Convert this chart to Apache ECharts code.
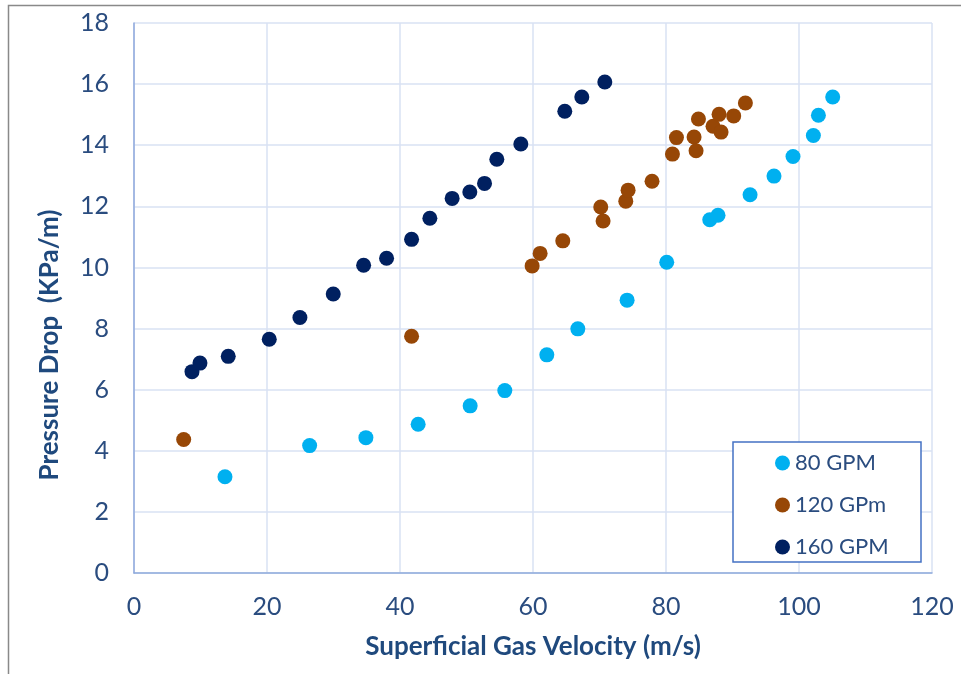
<!DOCTYPE html>
<html>
<head>
<meta charset="utf-8">
<script src="https://cdn.jsdelivr.net/npm/echarts@6/dist/echarts.min.js"></script>
<style>html,body{margin:0;padding:0;background:#fff}#c{width:961px;height:674px}</style>
</head>
<body>
<div id="c"></div>
<script>
var seriesNames = ['80 GPM', '120 GPm', '160 GPM'];
var gpm80 = [[13.68,3.15],[26.41,4.17],[34.87,4.43],[42.73,4.87],[50.55,5.47],[55.76,5.97],[62.08,7.14],[66.74,7.99],[74.15,8.93],[80.11,10.17],[86.58,11.56],[87.82,11.71],[92.64,12.38],[96.24,12.99],[99.10,13.63],[102.16,14.32],[102.92,14.98],[105.07,15.58]];
var gpm120 = [[7.47,4.37],[41.74,7.75],[59.87,10.05],[61.07,10.46],[64.48,10.87],[70.19,11.98],[70.54,11.52],[73.95,12.17],[74.30,12.53],[77.90,12.82],[80.97,13.71],[81.57,14.25],[84.22,14.27],[84.52,13.82],[84.88,14.86],[87.07,14.62],[87.98,15.01],[88.28,14.43],[90.18,14.96],[91.94,15.38]];
var gpm160 = [[8.72,6.59],[9.92,6.87],[14.17,7.09],[20.34,7.65],[24.95,8.36],[29.96,9.13],[34.53,10.07],[37.98,10.30],[41.74,10.92],[44.49,11.61],[47.84,12.26],[50.50,12.47],[52.71,12.75],[54.56,13.54],[58.17,14.04],[64.78,15.11],[67.34,15.58],[70.80,16.07]];
var colors = ['#00B0F0', '#974706', '#002060'];
var xTitle = 'Superficial Gas Velocity (m/s)';
var yTitle = 'Pressure Drop  (KPa/m)';

var FONT = 'Lato';
var labelColor = '#2A4C7F';
var titleColor = '#1F497D';
var chart = echarts.init(document.getElementById('c'), null, {renderer: 'canvas'});
var datas = [gpm80, gpm120, gpm160];
chart.setOption({
  animation: false,
  color: colors,
  grid: {left: 134, right: 29, top: 23, bottom: 101, containLabel: false},
  xAxis: {
    type: 'value', min: 0, max: 120, interval: 20,
    name: xTitle, nameLocation: 'middle', nameGap: 61,
    nameTextStyle: {fontFamily: FONT, fontSize: 26, fontWeight: 'bold', color: titleColor},
    axisLine: {show: true, lineStyle: {color: '#8FAADC', width: 1.5}},
    axisTick: {show: false},
    axisLabel: {fontFamily: FONT, fontSize: 25, color: labelColor, margin: 21},
    splitLine: {show: true, lineStyle: {color: '#D9E2F3', width: 1.5}}
  },
  yAxis: {
    type: 'value', min: 0, max: 18, interval: 2,
    axisLine: {show: true, lineStyle: {color: '#8FAADC', width: 1.5}},
    axisTick: {show: false},
    axisLabel: {fontFamily: FONT, fontSize: 25, color: labelColor, margin: 25},
    splitLine: {show: true, lineStyle: {color: '#D9E2F3', width: 1.5}}
  },
  legend: {
    orient: 'vertical', left: 775, top: 452, padding: 0,
    itemWidth: 15, itemHeight: 15, itemGap: 20, itemTextGap: 6,
    icon: 'circle',
    textStyle: {fontFamily: FONT, fontSize: 22, color: labelColor, lineHeight: 20},
    data: seriesNames
  },
  graphic: [
    {type: 'rect', shape: {x: 8.5, y: 5.5, width: 1200, height: 1200}, style: {fill: 'none', stroke: '#898989', lineWidth: 1.5}, silent: true, z: 0},
    {type: 'rect', shape: {x: 733, y: 442, width: 188, height: 120}, style: {fill: '#fff', stroke: '#4472C4', lineWidth: 1.5}, silent: true, z: 3},
    {type: 'text', x: 50, y: 345, rotation: Math.PI / 2, style: {text: yTitle, fontFamily: FONT, fontSize: 26, fontWeight: 'bold', fill: titleColor, align: 'center', verticalAlign: 'middle'}, z: 5}
  ],
  series: datas.map(function (d, i) {
    return {name: seriesNames[i], type: 'scatter', data: d, symbol: 'circle', symbolSize: 15, itemStyle: {color: colors[i], opacity: 1}, z: 2};
  })
});
</script>
</body>
</html>
